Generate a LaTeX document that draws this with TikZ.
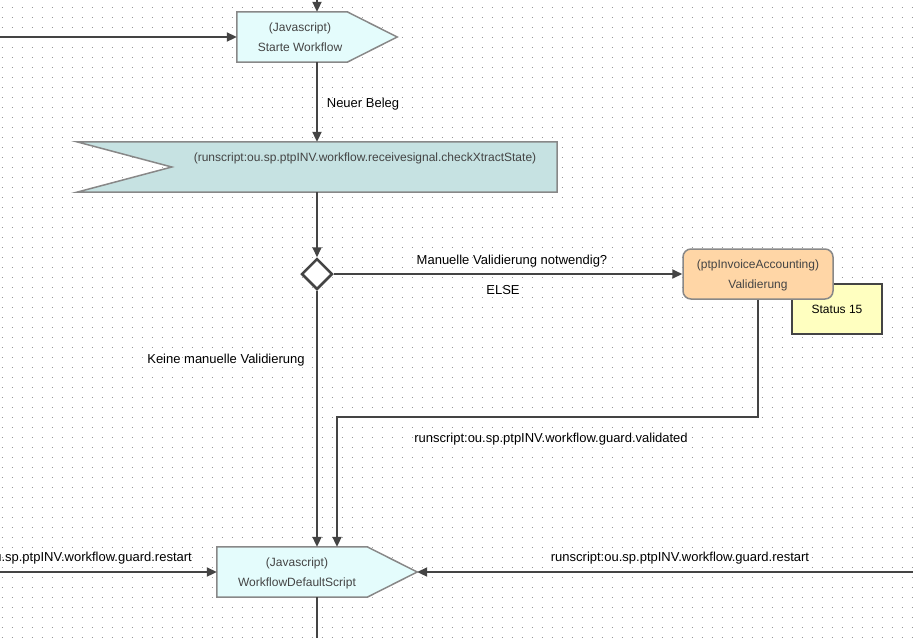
\documentclass[tikz,border=0pt]{standalone}
\usepackage{fontspec}
\setmainfont{Liberation Sans}
\usetikzlibrary{arrows.meta,shapes.geometric}

\definecolor{linegray}{RGB}{68,68,68}
\definecolor{framegray}{RGB}{136,136,136}
\definecolor{dotgray}{RGB}{150,150,150}
\definecolor{jsfill}{RGB}{228,252,252}
\definecolor{sigfill}{RGB}{198,226,226}
\definecolor{actfill}{RGB}{255,214,166}
\definecolor{notefill}{RGB}{255,255,192}
\definecolor{txtgray}{RGB}{68,68,68}

\tikzset{
  body/.style={draw=none,inner sep=0pt,minimum height=50pt},
  boxline/.style={draw=framegray,line width=1.5pt,line join=miter},
  boxtext/.style={text=txtgray,align=center,inner sep=0pt,
    font=\fontsize{12}{20}\selectfont},
  flow/.style={draw=linegray,line width=2pt,
    -{Triangle[length=10pt,width=9pt]}},
  plainflow/.style={draw=linegray,line width=2pt},
  lbl/.style={inner sep=0pt,font=\fontsize{13}{15}\selectfont}
}

\begin{document}
\begin{tikzpicture}[x=1pt,y=-1pt]
\clip (0,0) rectangle (913,638);
\fill[white] (0,0) rectangle (913,638);

% dotted grid
\foreach \gy in {7,17,...,637}
  \draw[dotgray,line width=1pt,dash pattern=on 1pt off 9pt] (1.5,\gy) -- (913,\gy);

% Starte Workflow
\node[body,minimum width=160pt] (start) at (317,37) {};
\path[boxline,fill=jsfill] (start.north west) -- ([xshift=-50pt]start.north east)
  -- (start.east) -- ([xshift=-50pt]start.south east) -- (start.south west) -- cycle;
\node[boxtext] (start-txt) at (300,37) {(Javascript)\\Starte Workflow};

% Signal
\node[body,minimum width=480pt] (signal) at (317,167) {};
\path[boxline,fill=sigfill] (signal.north west) -- (signal.north east)
  -- (signal.south east) -- (signal.south west) -- ([xshift=95pt]signal.west) -- cycle;
\node[boxtext] (signal-txt) at (365,158)
  {(runscript:ou.sp.ptpINV.workflow.receivesignal.checkXtractState)};

% Gateway
\node[diamond,draw=linegray,fill=white,line width=2.5pt,inner sep=0pt,
  minimum width=31pt,minimum height=31pt] (gate) at (317,274) {};

% Status 15
\node[draw=linegray,fill=notefill,line width=1.5pt,minimum width=90pt,
  minimum height=50pt,font=\fontsize{12}{14}\selectfont] (status) at (837,309) {Status 15};

% Validierung
\node[boxline,fill=actfill,rounded corners=8pt,minimum width=150pt,
  minimum height=50pt] (valid) at (758,274) {};
\node[boxtext] (valid-txt) at (758,275) {(ptpInvoiceAccounting)\\Validierung};

% WorkflowDefaultScript
\node[body,minimum width=200pt] (final) at (317,572) {};
\path[boxline,fill=jsfill] (final.north west) -- ([xshift=-50pt]final.north east)
  -- (final.east) -- ([xshift=-50pt]final.south east) -- (final.south west) -- cycle;
\node[boxtext] (final-txt) at (297,573) {(Javascript)\\WorkflowDefaultScript};

% free ends
\coordinate (in-top) at (317,0);
\coordinate (in-left) at (0,37);
\coordinate (restart-left) at (0,572);
\coordinate (restart-right) at (913,572);
\coordinate (out-bottom) at (317,638);
\coordinate (bend) at (337,417);

% connectors
\draw[flow] (in-top) -- (start.north);
\draw[flow] (in-left) -- (start.west);
\draw[flow] (start.south) -- (signal.north);
\draw[flow] (signal.south) -- (gate.north);
\draw[flow] (gate.east) -- (valid.west);
\draw[flow] (gate.south) -- (final.north);
\draw[flow] (valid.south) |- (bend) -- ([xshift=20pt]final.north);
\draw[flow] (restart-left) -- (final.west);
\draw[flow] (restart-right) -- (final.east);
\draw[plainflow] (final.south) -- (out-bottom);

% labels
\node[lbl] (l-beleg) at (363,104.5) {Neuer Beleg};
\node[lbl] (l-manuell) at (512,261.5) {Manuelle Validierung notwendig?};
\node[lbl] (l-else) at (503,290.5) {ELSE};
\node[lbl] (l-keine) at (226,360.5) {Keine manuelle Validierung};
\node[lbl] (l-validated) at (551,439.5) {runscript:ou.sp.ptpINV.workflow.guard.validated};
\node[lbl] (l-restart-r) at (680,558.5) {runscript:ou.sp.ptpINV.workflow.guard.restart};
\node[lbl,anchor=east] (l-restart-l) at (192,558.5) {runscript:ou.sp.ptpINV.workflow.guard.restart};
\end{tikzpicture}
\end{document}
